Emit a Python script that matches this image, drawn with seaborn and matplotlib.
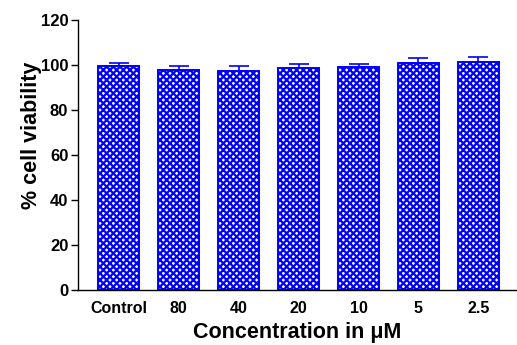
import numpy as np
import pandas as pd
import seaborn as sns
import matplotlib.pyplot as plt

# valores
concentrations = ['Control', '80', '40', '20', '10', '5', '2.5']
viability = [99.4, 97.8, 97.2, 98.5, 99.0, 100.9, 101.2]
sd = [1.3, 1.6, 2.2, 1.9, 1.3, 2.4, 2.4]

data = pd.DataFrame({'conc': concentrations, 'viability': viability})

sns.set_style('ticks', {'text.color': 'black', 'axes.labelcolor': 'black',
                        'xtick.color': 'black', 'ytick.color': 'black',
                        'axes.edgecolor': 'black'})
plt.rcParams['font.family'] = ['Liberation Sans', 'DejaVu Sans']
plt.rcParams['font.weight'] = 'bold'
plt.rcParams['hatch.linewidth'] = 1.6

fig = plt.figure(figsize=(5.17, 3.45), dpi=100)
ax = fig.add_axes([0.151, 0.159, 0.847, 0.783])

sns.barplot(x='conc', y='viability', data=data, ax=ax, order=concentrations,
            color='white', edgecolor='#0000ff', hatch='xxxxx', width=0.67,
            linewidth=1.4, errorbar=None, saturation=1)

# barras de error solo hacia arriba
ax.errorbar(np.arange(len(concentrations)), viability,
            yerr=[np.zeros(len(sd)), sd], fmt='none', ecolor='#0000ff',
            elinewidth=1.2, capsize=7.5, capthick=1.2)

ax.set_ylim(0, 120)
ax.set_xlim(-0.675, 6.625)
ax.set_yticks([0, 20, 40, 60, 80, 100, 120])
ax.tick_params(axis='y', length=5, width=1, labelsize=12, pad=2)
ax.tick_params(axis='x', length=0, labelsize=11.5, pad=8)
for lbl in ax.get_xticklabels() + ax.get_yticklabels():
    lbl.set_fontweight('bold')

ax.set_ylabel('% cell viability', fontsize=15.5, fontweight='bold')
ax.yaxis.set_label_coords(-0.082, 0.574)
ax.set_xlabel('Concentration in μM', fontsize=15.5, fontweight='bold', labelpad=4)

sns.despine(ax=ax)
for s in ['left', 'bottom']:
    ax.spines[s].set_linewidth(1)
    ax.spines[s].set_color('black')

plt.savefig('out.png', dpi=100)
